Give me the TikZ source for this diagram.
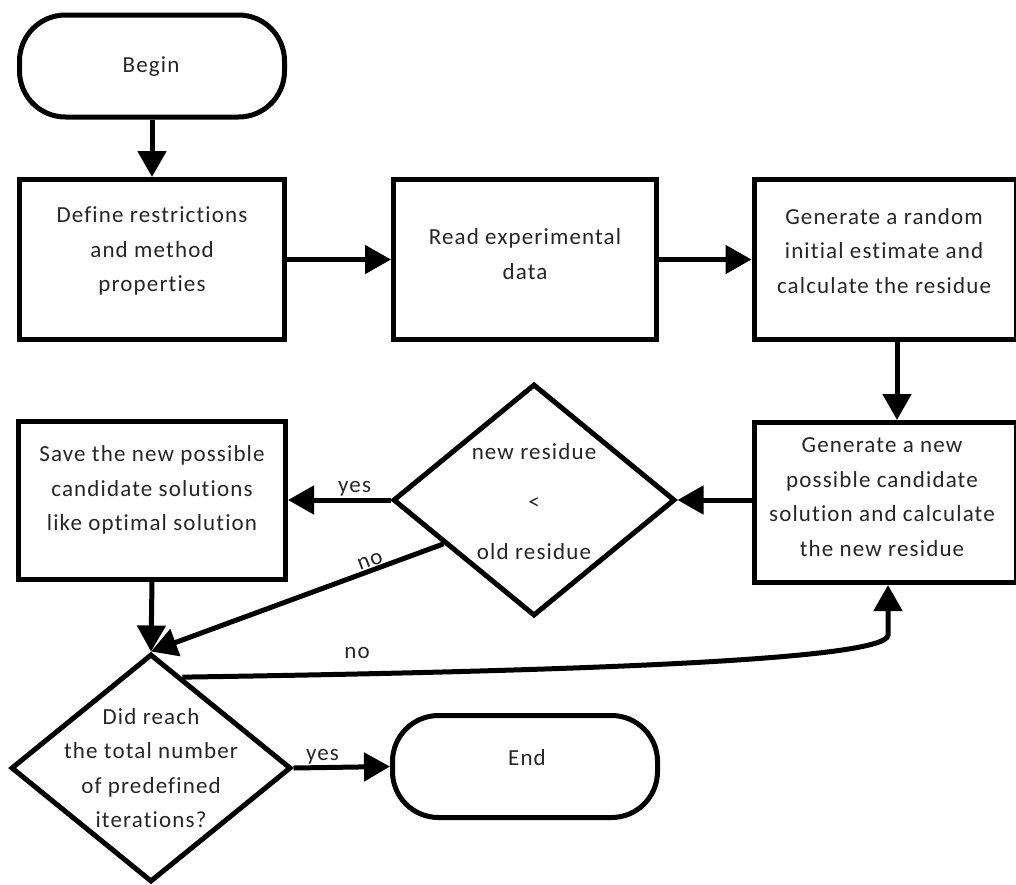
\documentclass[tikz,border=0pt]{standalone}
\usepackage{fontspec}
\setmainfont{Carlito}[LetterSpace=5,Ligatures=NoCommon]
\usetikzlibrary{arrows.meta,shapes.geometric,calc}
\begin{document}
\begin{tikzpicture}[x=1pt,y=-1pt, line width=5pt,
  every node/.style={font=\fontsize{23}{34.5}\selectfont, text=black!85},
  box/.style={draw=black, rectangle, inner sep=0pt},
  txt/.style={align=center, inner sep=0pt},
  term/.style={draw=black, rectangle, rounded corners=46pt, minimum width=265pt, minimum height=102pt},
  dia/.style={draw=black, diamond, inner sep=0pt},
  arr/.style={draw=black, -{Triangle[length=26pt,width=28pt]}},
  lbl/.style={inner sep=1pt}]
\path[use as bounding box] (0,0) rectangle (1016,884);
\fill[white] (0,0) rectangle (1016,884);

\node[term] (begin) at (152,66) {};
\node[txt] (begint) at (151,67) {Begin};
\node[box, minimum width=265pt, minimum height=160pt] (b1) at (152,259.5) {};
\node[txt] (b1t) at (152,251) {Define restrictions\\and method\\properties};
\node[box, minimum width=263pt, minimum height=160pt] (b2) at (525,259.5) {};
\node[txt] (b2t) at (525,254) {Read experimental\\data};
\node[box, minimum width=262pt, minimum height=160pt] (b3) at (885,259.5) {};
\node[txt] (b3t) at (884,251) {Generate a random\\initial estimate and\\calculate the residue};
\node[box, minimum width=262pt, minimum height=160pt] (b4) at (885,502.5) {};
\node[txt] (b4t) at (882,497) {Generate a new\\possible candidate\\solution and calculate\\the new residue};
\node[dia, minimum width=282pt, minimum height=232pt] (d1) at (534,500) {};
\node[txt, font=\fontsize{23}{30}\selectfont] (d1t) at (534,502) {new residue\\[20pt]<\\[20pt]old residue};
\node[box, minimum width=267pt, minimum height=158pt] (b5) at (152,500) {};
\node[txt] (b5t) at (152,490) {Save the new possible\\candidate solutions\\like optimal solution};
\node[dia, minimum width=280pt, minimum height=228pt] (d2) at (151,768) {};
\node[txt] (d2t) at (151,768) {Did reach\\the total number\\of predefined\\iterations?};
\node[term] (end) at (525,766.5) {};
\node[txt] (endt) at (527,758) {End};

\draw[arr] (begin.south) -- (begin.south |- b1.north);
\draw[arr] (b1.east) -- (b2.west);
\draw[arr] (b2.east) -- (b3.west);
\draw[arr] ($(b3.south)+(12,0)$) -- ($(b4.north)+(12,0)$);
\draw[arr] (d1.east -| b4.west) -- (d1.east);
\draw[arr] (d1.west) -- (d1.west -| b5.east) node[lbl, pos=0.35, above] (yes1) {yes};
\draw[arr] (b5.south) -- (d2.north);
\draw[arr] ($(d1.west)!0.37!(d1.south)$) -- (d2.north) node[lbl, pos=0.24, above, sloped] (no1) {no};
\draw[arr] ($(d2.north)!0.22!(d2.east)$) .. controls (520,672) and (888,662) .. ($(b4.south)+(3,50)$) -- ($(b4.south)+(3,0)$);
\node[lbl] (no2) at (357,653) {no};
\draw[arr] (d2.east) -- (end.west) node[lbl, pos=0.3, above] (yes2) {yes};
\end{tikzpicture}
\end{document}
